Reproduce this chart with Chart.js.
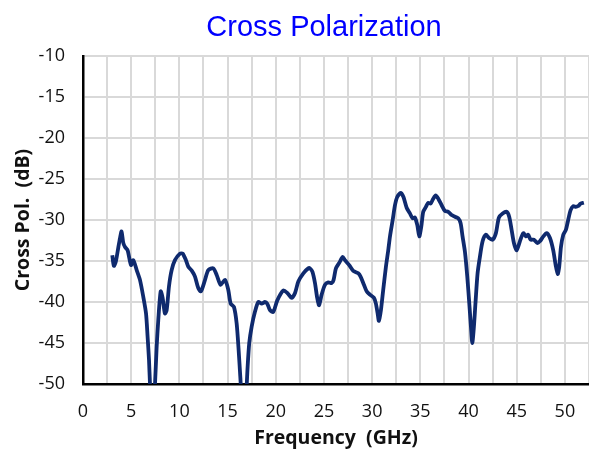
<!DOCTYPE html>
<html>
<head>
<meta charset="utf-8">
<script src="https://cdn.jsdelivr.net/npm/chart.js@4/dist/chart.umd.min.js"></script>
<style>
  html, body { margin: 0; padding: 0; background: #fff; }
  #wrap { width: 589px; height: 450px; position: relative; }
</style>
</head>
<body>
<div id="wrap"><canvas id="c" width="589" height="450"></canvas></div>
<script>
const chartTitle = "Cross Polarization";
const xAxisTitle = "Frequency  (GHz)";
const yAxisTitle = "Cross Pol.  (dB)";

const freqGHz = [
  3.04, 3.2, 3.4, 3.67, 3.84, 4.0, 4.18, 4.36, 4.63, 4.98, 5.22, 5.57, 5.91, 6.26, 6.54, 6.7, 6.85, 6.95, 7.2, 7.47,
  7.64, 7.81, 8.06, 8.26, 8.5, 8.68, 8.92, 9.2, 9.54, 10.06, 10.34, 10.68, 10.93, 11.3, 11.62, 11.96, 12.24, 12.66, 13.0, 13.52,
  13.87, 14.28, 14.73, 15.07, 15.32, 15.66, 15.94, 16.15, 16.32, 16.7, 17.08, 17.25, 17.5, 17.84, 18.19, 18.54, 18.88, 19.12, 19.4, 19.74,
  20.16, 20.78, 21.2, 21.65, 22.0, 22.34, 22.86, 23.37, 23.55, 23.8, 24.07, 24.3, 24.5, 24.76, 25.1, 25.45, 25.8, 26.0, 26.24, 26.6,
  26.94, 27.18, 27.62, 28.04, 28.56, 28.8, 29.15, 29.43, 29.77, 30.19, 30.39, 30.57, 30.7, 30.91, 31.15, 31.43, 31.67, 31.85, 32.13, 32.37,
  32.6, 32.96, 33.25, 33.58, 33.92, 34.2, 34.44, 34.68, 34.89, 35.1, 35.3, 35.58, 35.82, 36.07, 36.34, 36.59, 36.86, 37.21, 37.55, 37.9,
  38.24, 38.59, 38.93, 39.18, 39.38, 39.63, 39.87, 40.08, 40.25, 40.39, 40.56, 40.74, 40.94, 41.18, 41.46, 41.8, 42.12, 42.5, 42.84, 43.15,
  43.54, 43.95, 44.22, 44.47, 44.71, 44.99, 45.33, 45.68, 45.95, 46.19, 46.44, 46.78, 47.13, 47.4, 47.76, 48.1, 48.45, 48.79, 49.04, 49.25,
  49.41, 49.59, 49.83, 50.1, 50.34, 50.59, 50.87, 51.14, 51.38, 51.63, 51.97
];

const crossPolDB = [
  -34.3, -35.6, -35.1, -33.3, -32.2, -31.4, -32.8, -33.3, -33.7, -35.5, -34.9, -36.1, -37.3, -39.4, -41.4, -44.2, -47.1, -50.0, -55.0, -50.0,
  -45.5, -42.2, -38.7, -39.5, -41.4, -41.0, -38.1, -36.1, -34.9, -34.1, -34.1, -34.9, -35.7, -36.2, -36.9, -38.3, -38.7, -37.3, -36.1, -35.9,
  -36.7, -37.9, -37.3, -38.5, -40.2, -40.6, -42.6, -45.9, -49.1, -56.0, -47.9, -45.0, -43.0, -41.2, -40.0, -40.2, -40.0, -40.2, -41.0, -41.2,
  -39.8, -38.6, -38.9, -39.5, -38.9, -37.5, -36.5, -35.9, -35.9, -36.3, -37.7, -39.5, -40.4, -39.1, -37.9, -37.6, -37.7, -37.3, -35.9, -35.2,
  -34.5, -34.9, -35.5, -36.2, -36.5, -36.9, -37.9, -38.7, -39.1, -39.5, -40.2, -41.4, -42.3, -41.0, -38.5, -35.7, -33.7, -32.0, -30.0, -28.2,
  -27.2, -26.7, -27.2, -28.5, -29.2, -29.8, -29.7, -30.6, -32.0, -30.8, -29.0, -28.4, -27.9, -28.0, -27.4, -27.0, -27.4, -28.2, -28.9, -29.0,
  -29.4, -29.6, -29.8, -30.4, -32.0, -33.9, -36.9, -40.2, -43.0, -45.0, -43.0, -39.8, -36.5, -34.5, -32.6, -31.8, -32.2, -32.4, -31.6, -29.7,
  -29.2, -29.0, -29.6, -31.2, -32.8, -33.7, -32.6, -31.6, -32.0, -31.8, -32.4, -32.4, -32.8, -32.6, -32.0, -31.6, -32.2, -33.7, -35.5, -36.6,
  -35.7, -33.3, -31.8, -31.2, -30.0, -28.8, -28.3, -28.4, -28.3, -28.0, -27.9
];

const xMin = 0, xMax = 52.5, xStep = 2.5, xLabelEvery = 5;
const yMin = -50, yMax = -10, yStep = 5;

const points = freqGHz.map((f, i) => ({ x: f, y: crossPolDB[i] }));

const titlePlugin = {
  id: 'centeredTitle',
  afterDraw(chart) {
    const ctx = chart.ctx;
    ctx.save();
    ctx.font = '29px "Liberation Sans", Arial, sans-serif';
    ctx.fillStyle = '#0000ff';
    ctx.textAlign = 'center';
    ctx.textBaseline = 'alphabetic';
    ctx.fillText(chartTitle, 324, 36);
    ctx.restore();
  }
};

new Chart(document.getElementById('c'), {
  type: 'line',
  data: {
    datasets: [{
      data: points,
      borderColor: '#0f2a6e',
      borderWidth: 3.8,
      pointRadius: 0,
      tension: 0.25,
      fill: false
    }]
  },
  options: {
    responsive: false,
    animation: false,
    devicePixelRatio: 1,
    layout: { padding: { top: 56, right: 0, left: 0, bottom: 0 } },
    plugins: { legend: { display: false }, tooltip: { enabled: false }, title: { display: false } },
    scales: {
      x: {
        type: 'linear',
        min: xMin, max: xMax,
        afterFit(scale) { scale.height = 66; scale.paddingRight = 0; scale.paddingLeft = 0; },
        afterBuildTicks(scale) {
          const t = [];
          for (let v = xMin; v <= xMax + 1e-9; v += xStep) t.push({ value: +v.toFixed(2) });
          scale.ticks = t;
        },
        ticks: {
          autoSkip: false,
          maxRotation: 0,
          padding: 17,
          color: '#111',
          font: { family: '"Open Sans", sans-serif', size: 18 },
          callback: (v) => (Math.abs(v % xLabelEvery) < 1e-6 ? String(v) : '')
        },
        grid: { color: '#d9d9d9', lineWidth: 2, drawTicks: false },
        border: { color: '#000', width: 2.5 },
        title: {
          display: true,
          text: xAxisTitle,
          color: '#111',
          font: { family: '"Open Sans", sans-serif', size: 19.5, weight: 'bold' },
          padding: { top: 0, bottom: 0 }
        }
      },
      y: {
        min: yMin, max: yMax,
        afterFit(scale) { scale.width = 83; },
        ticks: {
          stepSize: yStep,
          padding: 18,
          color: '#111',
          font: { family: '"Open Sans", sans-serif', size: 18 }
        },
        grid: { color: '#d9d9d9', lineWidth: 2, drawTicks: false },
        border: { color: '#000', width: 2.5 },
        title: {
          display: true,
          text: yAxisTitle,
          color: '#111',
          font: { family: '"Open Sans", sans-serif', size: 19.5, weight: 'bold' },
          padding: { top: 12, bottom: 0 }
        }
      }
    }
  },
  plugins: [titlePlugin]
});
</script>
</body>
</html>
